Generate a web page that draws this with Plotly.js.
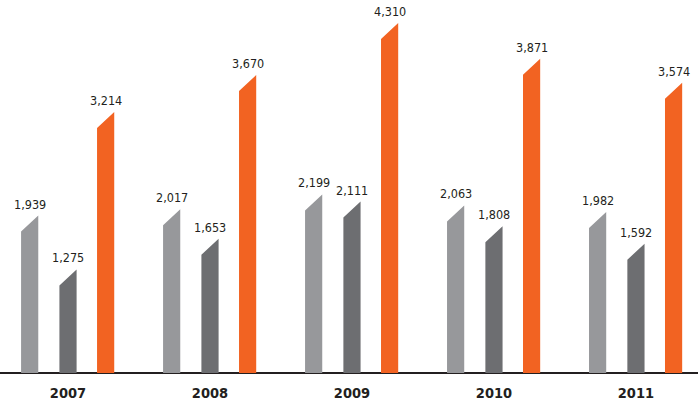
<!DOCTYPE html>
<html>
<head>
<meta charset="utf-8">
<script src="https://cdn.plot.ly/plotly-3.0.1.min.js"></script>
<style>
html,body{margin:0;padding:0;background:#fff;}
#chart{width:698px;height:402px;}
</style>
</head>
<body>
<div id="chart"></div>
<script>
// ---- data ----
const years = ["2007", "2008", "2009", "2010", "2011"];
const seriesA = [1939, 2017, 2199, 2063, 1982];   // light grey
const seriesB = [1275, 1653, 2111, 1808, 1592];   // dark grey
const seriesC = [3214, 3670, 4310, 3871, 3574];   // orange

// ---- styles ----
const colors = ["#97989b", "#6d6e71", "#f26322"];
const offsets = [-0.27, 0, 0.265];      // in category units
const barW = 0.121;                      // in category units
const plotH = 373;                       // plot height in px (t=0, b=29)
const yMax = 4593;
const cutPx = 16;                        // slanted-top drop in px
const cut = cutPx * yMax / plotH;
const fmt = v => v.toLocaleString("en-US");
const labelFont = {family: "'DejaVu Sans Condensed','Liberation Sans Narrow',sans-serif", size: 12.5, color: "#231f20"};

const all = [seriesA, seriesB, seriesC];
const traces = [];
const annotations = [];
all.forEach((vals, s) => {
  const xs = [], ys = [];
  vals.forEach((v, i) => {
    const c = i + offsets[s];
    const l = c - barW / 2, r = c + barW / 2;
    xs.push(l, l, r, r, l, null);
    ys.push(0, v - cut, v, 0, 0, null);
    annotations.push({
      x: c, y: v, xref: "x", yref: "y",
      text: fmt(v), showarrow: false,
      xanchor: "center", yanchor: "bottom", yshift: 2,
      font: labelFont
    });
  });
  traces.push({
    type: "scatter", mode: "lines", x: xs, y: ys,
    fill: "toself", fillcolor: colors[s],
    line: {width: 0, color: colors[s]},
    hoverinfo: "skip", showlegend: false
  });
});

const layout = {
  width: 698, height: 402,
  margin: {l: 0, r: 0, t: 0, b: 29, pad: 0},
  paper_bgcolor: "#ffffff", plot_bgcolor: "#ffffff",
  showlegend: false,
  annotations: annotations,
  xaxis: {
    range: [-0.479, 4.437],
    tickmode: "array",
    tickvals: years.map((y, i) => i),
    ticktext: years,
    ticks: "", showgrid: false, zeroline: false,
    showline: false,
    tickfont: {family: "'DejaVu Sans Condensed','Liberation Sans Narrow',sans-serif", size: 14.5, color: "#231f20", weight: "bold"},
    ticklabelstandoff: 9,
    fixedrange: true
  },
  yaxis: {
    range: [0, yMax],
    showticklabels: false, ticks: "", showgrid: false,
    zeroline: true, zerolinecolor: "#231f20", zerolinewidth: 1.2,
    showline: false, fixedrange: true
  }
};

Plotly.newPlot("chart", traces, layout, {displayModeBar: false, staticPlot: true});
</script>
</body>
</html>
